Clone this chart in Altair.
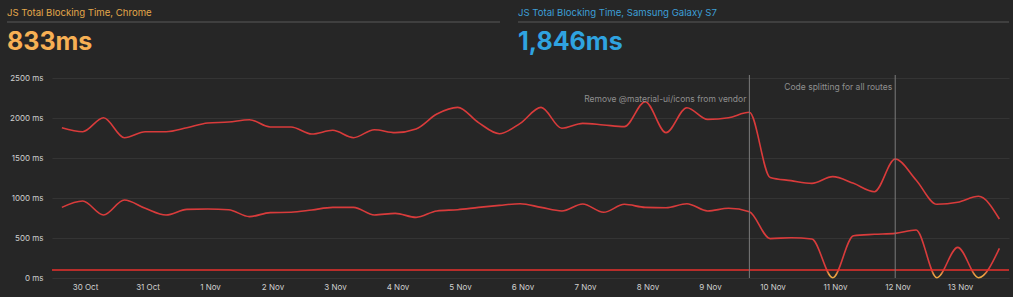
import altair as alt
import pandas as pd

# ---- data -------------------------------------------------------------
# tests every 8 hours; day offsets relative to 30 Oct 00:00
start_day = -0.37
step_day = 1 / 3
chrome_tbt = [1879, 1829, 2004, 1754, 1829, 1829, 1879, 1938, 1950, 1979,
              1888, 1888, 1800, 1846, 1754, 1854, 1817, 1863, 2050, 2133,
              1942, 1804, 1933, 2133, 1871, 1933, 1913, 1892, 2204, 1817,
              2129, 1983, 2004, 2071, 1257, 1217, 1183, 1267, 1183, 1079,
              1487, 1225, 921, 946, 1021, 737]
galaxy_tbt = [883, 963, 788, 975, 871, 788, 858, 863, 854, 767,
              817, 821, 850, 883, 883, 788, 808, 758, 838, 854,
              883, 908, 929, 883, 838, 925, 821, 921, 883, 879,
              929, 838, 871, 829, 492, 504, 488, 4, 529, 546,
              558, 600, 4, 383, 4, 371]
days = [start_day + i * step_day for i in range(len(chrome_tbt))]

tick_days = list(range(15))
tick_labels = ["30 Oct", "31 Oct", "1 Nov", "2 Nov", "3 Nov", "4 Nov", "5 Nov",
               "6 Nov", "7 Nov", "8 Nov", "9 Nov", "10 Nov", "11 Nov", "12 Nov", "13 Nov"]
y_ticks = [0, 500, 1000, 1500, 2000, 2500]
threshold = [100]

annotation_days = [days[33], days[40]]
annotation_texts = ["Remove @material-ui/icons from vendor", "Code splitting for all routes"]

header_titles = ["JS Total Blocking Time, Chrome", "JS Total Blocking Time, Samsung Galaxy S7"]
header_values = ["833ms", "1,846ms"]

# ---- styling ----------------------------------------------------------
BG = "#262626"
RED = "#d93b3b"
ORANGE = "#eba542"
FONT = "Inter"

df_a = pd.DataFrame({"day": days, "ms": chrome_tbt})
df_b = pd.DataFrame({"day": days, "ms": galaxy_tbt})

x_scale = alt.Scale(domain=[-0.528, 14.784], nice=False, zero=False)
y_scale = alt.Scale(domain=[0, 2500], nice=False)

label_array = "[" + ",".join("'" + t + "'" for t in tick_labels) + "]"

x_axis = alt.Axis(values=tick_days, labelExpr=label_array + "[datum.value]",
                  title=None, grid=False, ticks=False, domain=False,
                  labelColor="#d0d0d0", labelFont=FONT, labelFontSize=8,
                  labelPadding=5, labelOverlap=False)
y_axis = alt.Axis(values=y_ticks, labelExpr="datum.value + ' ms'",
                  title=None, grid=True, gridColor="#343434", gridWidth=1,
                  ticks=False, domain=False, labelColor="#d0d0d0",
                  labelFont=FONT, labelFontSize=8, labelPadding=9,
                  labelOverlap=False, labelFlush=False)

def X(field="day:Q"):
    return alt.X(field, scale=x_scale, axis=x_axis)

def Y(field="ms:Q"):
    return alt.Y(field, scale=y_scale, axis=y_axis)

line_a = alt.Chart(df_a).mark_line(
    interpolate="monotone", strokeWidth=1.6, color=RED
).encode(x=X(), y=Y())

mx, mn = max(galaxy_tbt), min(galaxy_tbt)
off = (mx - threshold[0]) / (mx - mn)
grad = alt.Gradient(
    gradient="linear", x1=0, x2=0, y1=0, y2=1,
    stops=[alt.GradientStop(color=RED, offset=0),
           alt.GradientStop(color=RED, offset=off - 0.005),
           alt.GradientStop(color=ORANGE, offset=min(1, off + 0.06)),
           alt.GradientStop(color=ORANGE, offset=1)])
line_b = alt.Chart(df_b).mark_line(
    interpolate="monotone", strokeWidth=1.6, color=grad
).encode(x=X(), y=Y())

thr = alt.Chart(pd.DataFrame({"ms": threshold})).mark_rule(
    color="#e8302c", strokeWidth=1.5
).encode(y=Y())

ann_df = pd.DataFrame({"day": annotation_days, "text": annotation_texts})
ann_rules = alt.Chart(ann_df).mark_rule(color="#7a7a7a", strokeWidth=1).encode(
    x=X(), y=alt.value(-3), y2=alt.value(200))
ann_text_a = alt.Chart(ann_df.iloc[[0]]).mark_text(
    align="right", baseline="middle", dx=-3, font=FONT, fontSize=8.5,
    color="#8f8f8f"
).encode(x=X(), y=alt.value(21.3), text="text:N")
ann_text_b = alt.Chart(ann_df.iloc[[1]]).mark_text(
    align="right", baseline="middle", dx=-3, font=FONT, fontSize=8.5,
    color="#8f8f8f"
).encode(x=X(), y=alt.value(8.7), text="text:N")

# headers (outside the plot area, in the top padding)
def header(i, px, tcol, vcol):
    t = alt.Chart(pd.DataFrame({"title": [header_titles[i]]})).mark_text(
        align="left", baseline="alphabetic", font=FONT, fontSize=9.6, color=tcol
    ).encode(x=alt.value(px), y=alt.value(-62.5), text="title:N")
    v = alt.Chart(pd.DataFrame({"value": [header_values[i]]})).mark_text(
        align="left", baseline="alphabetic", font=FONT, fontSize=25,
        fontWeight="bold", color=vcol
    ).encode(x=alt.value(px), y=alt.value(-28), text="value:N")
    return [t, v]

hdr = header(0, -45, "#e3a64a", "#f7b054") + header(1, 466, "#3d9fd6", "#2fa3e0")
div1 = alt.Chart(pd.DataFrame({"a": [0]})).mark_rule(color="#3f3f3f", strokeWidth=2).encode(
    x=alt.value(-45), x2=alt.value(448), y=alt.value(-56))
div2 = alt.Chart(pd.DataFrame({"a": [0]})).mark_rule(color="#3f3f3f", strokeWidth=2).encode(
    x=alt.value(466), x2=alt.value(957), y=alt.value(-56))

chart = alt.layer(
    line_a, line_b, thr, ann_rules, ann_text_a, ann_text_b, *hdr, div1, div2
).properties(
    width=957, height=200,
    autosize=alt.AutoSizeParams(type="none"),
    padding={"left": 52, "top": 78, "right": 4, "bottom": 19},
    background=BG,
).configure_view(stroke=None)

chart.save("out.html", embed_options={"renderer": "svg", "actions": False})
